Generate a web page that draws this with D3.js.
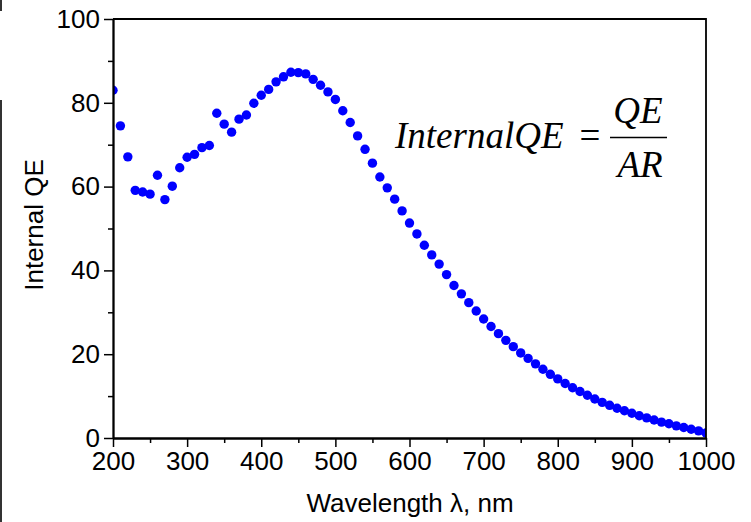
<!DOCTYPE html>
<html>
<head>
<meta charset="utf-8">
<script src="https://cdn.jsdelivr.net/npm/d3@7/dist/d3.min.js"></script>
<style>
  html, body { margin: 0; padding: 0; background: #fff; }
  svg { display: block; }
</style>
</head>
<body>
<svg id="chart" width="751" height="522"></svg>
<script>
// Wavelength (nm) and measured internal quantum efficiency (%)
const wavelengths = [
  200, 210, 220, 230, 240, 250, 260, 270, 280, 290,
  300, 310, 320, 330, 340, 350, 360, 370, 380, 390,
  400, 410, 420, 430, 440, 450, 460, 470, 480, 490,
  500, 510, 520, 530, 540, 550, 560, 570, 580, 590,
  600, 610, 620, 630, 640, 650, 660, 670, 680, 690,
  700, 710, 720, 730, 740, 750, 760, 770, 780, 790,
  800, 810, 820, 830, 840, 850, 860, 870, 880, 890,
  900, 910, 920, 930, 940, 950, 960, 970, 980, 990,
  1000
];
const internalQE = [
  83.0, 74.5, 67.1, 59.1, 58.7, 58.2, 62.7, 56.9, 60.1, 64.5,
  67.0, 67.7, 69.3, 69.8, 77.5, 74.9, 73.0, 76.1, 77.1, 79.9,
  81.8, 83.2, 85.0, 86.2, 87.3, 87.2, 86.9, 85.6, 84.2, 82.6,
  80.8, 78.1, 75.3, 72.1, 68.9, 65.6, 62.3, 59.7, 57.0, 54.2,
  51.3, 48.7, 46.0, 43.7, 41.5, 39.0, 36.4, 34.4, 32.3, 30.3,
  28.4, 26.6, 24.9, 23.3, 21.8, 20.3, 19.0, 17.7, 16.4, 15.2,
  14.1, 13.0, 12.0, 11.1, 10.2, 9.3, 8.5, 7.8, 7.1, 6.5,
  5.9, 5.3, 4.8, 4.3, 3.8, 3.4, 2.9, 2.5, 2.1, 1.7,
  1.2
];
const xMajorTicks = [200, 300, 400, 500, 600, 700, 800, 900, 1000];
const xMinorTicks = [250, 350, 450, 550, 650, 750, 850, 950];
const yMajorTicks = [0, 20, 40, 60, 80, 100];
const yMinorTicks = [10, 30, 50, 70, 90];

const plot = { left: 113, right: 706, top: 19, bottom: 438 };
const sans = "'Liberation Sans', Arial, sans-serif";
const serif = "'Liberation Serif', 'Times New Roman', serif";
const svg = d3.select("#chart");

const x = d3.scaleLinear().domain([200, 1000]).range([plot.left, plot.right]);
const y = d3.scaleLinear().domain([0, 100]).range([plot.bottom, plot.top]);

// thin dark edge along the left margin
svg.append("line")
  .attr("x1", 1).attr("x2", 1).attr("y1", 100).attr("y2", 522)
  .attr("stroke", "#333").attr("stroke-width", 2);
svg.append("line")
  .attr("x1", 1).attr("x2", 1).attr("y1", 0).attr("y2", 11)
  .attr("stroke", "#333").attr("stroke-width", 2);

// clip the markers to the frame
svg.append("defs").append("clipPath").attr("id", "plotClip")
  .append("rect")
  .attr("x", plot.left).attr("y", plot.top)
  .attr("width", plot.right - plot.left).attr("height", plot.bottom - plot.top);

svg.append("g").attr("clip-path", "url(#plotClip)")
  .selectAll("circle")
  .data(wavelengths.map((w, i) => ({ w, v: internalQE[i] })))
  .join("circle")
  .attr("cx", d => x(d.w))
  .attr("cy", d => y(d.v))
  .attr("r", 4.7)
  .attr("fill", "#0000ff");

// frame: top and right borders
svg.append("path")
  .attr("d", `M${plot.left},${plot.top}H${plot.right}V${plot.bottom}`)
  .attr("fill", "none").attr("stroke", "#000").attr("stroke-width", 1.8);

// bottom axis
svg.append("g").attr("transform", `translate(0,${plot.bottom})`)
  .call(d3.axisBottom(x).tickValues(xMajorTicks).tickFormat(d3.format("d"))
    .tickSize(9).tickPadding(5).tickSizeOuter(0));
svg.append("g").attr("transform", `translate(0,${plot.bottom})`)
  .call(d3.axisBottom(x).tickValues(xMinorTicks).tickSize(5).tickFormat("").tickSizeOuter(0));

// left axis
svg.append("g").attr("transform", `translate(${plot.left},0)`)
  .call(d3.axisLeft(y).tickValues(yMajorTicks).tickSize(9).tickPadding(4).tickSizeOuter(0));
svg.append("g").attr("transform", `translate(${plot.left},0)`)
  .call(d3.axisLeft(y).tickValues(yMinorTicks).tickSize(5).tickFormat("").tickSizeOuter(0));

svg.selectAll(".domain").attr("stroke", "#000").attr("stroke-width", 1.8);
svg.selectAll(".tick line").attr("stroke", "#000").attr("stroke-width", 1.5);
svg.selectAll(".tick text")
  .attr("font-family", sans)
  .attr("font-size", 26).attr("fill", "#000");

// axis titles
svg.append("text")
  .attr("x", 410).attr("y", 512)
  .attr("text-anchor", "middle")
  .attr("font-family", sans)
  .attr("font-size", 26)
  .text("Wavelength \u03bb, nm");

svg.append("text")
  .attr("transform", "translate(43,225) rotate(-90)")
  .attr("text-anchor", "middle")
  .attr("font-family", sans)
  .attr("font-size", 26)
  .text("Internal QE");

// formula: InternalQE = QE / AR
svg.append("text")
  .attr("x", 395).attr("y", 148)
  .attr("font-family", serif).attr("font-style", "italic").attr("font-size", 37)
  .text("InternalQE");
svg.append("text")
  .attr("x", 590).attr("y", 148).attr("text-anchor", "middle")
  .attr("font-family", serif).attr("font-size", 37)
  .text("=");
svg.append("text")
  .attr("x", 638).attr("y", 123).attr("text-anchor", "middle")
  .attr("font-family", serif).attr("font-style", "italic").attr("font-size", 37)
  .text("QE");
svg.append("line")
  .attr("x1", 610).attr("x2", 667).attr("y1", 137.5).attr("y2", 137.5)
  .attr("stroke", "#000").attr("stroke-width", 1.6);
svg.append("text")
  .attr("x", 640).attr("y", 177).attr("text-anchor", "middle")
  .attr("font-family", serif).attr("font-style", "italic").attr("font-size", 37)
  .text("AR");
</script>
</body>
</html>
